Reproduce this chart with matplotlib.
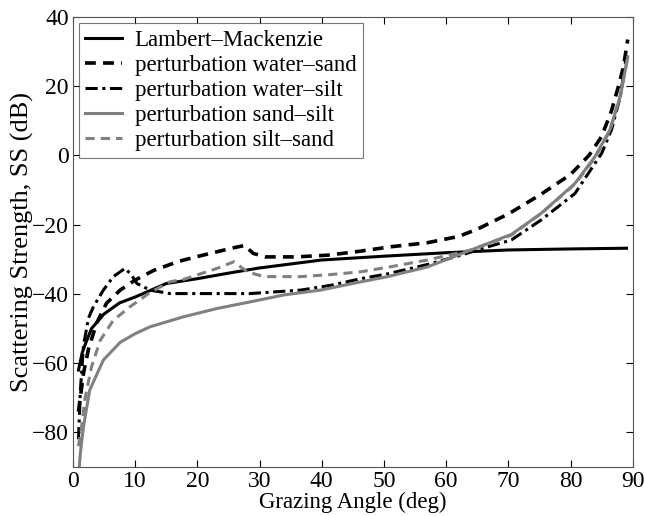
import matplotlib
matplotlib.use('Agg')
import matplotlib.pyplot as plt
import numpy as np

# grazing angle (deg) and scattering strength (dB)
lm_x = [0.9, 1.5, 2, 3, 5, 7.5, 10, 15, 20, 25, 30, 40, 50, 60, 70, 80, 89]
lm_y = [-62, -57, -54.5, -50, -45.8, -42.6, -40.9, -37, -35.6, -34, -32.5, -30.2, -29.1, -28.1, -27.3, -27.0, -26.8]

ws_x = [0.9, 1.7, 2.5, 3.8, 5.4, 7.6, 10, 13, 17, 20, 23, 25.5, 27.6, 29, 31, 36, 41, 46, 51, 57, 62, 65, 70,
        75, 80, 83, 85, 86.6, 87.7, 88.5, 89.2]
ws_y = [-74, -63, -56, -48.5, -42.7, -38.9, -36, -33.2, -30.6, -29.2, -27.9, -26.8, -26.0, -28.3, -29.3, -29.3,
        -28.8, -27.7, -26.4, -25.2, -23.4, -21.3, -16.9, -11.5, -5.5, 0.1, 5.5, 13, 20, 25.6, 33.5]

wsi_x = [0.9, 1.2, 1.7, 2.5, 3.3, 4.9, 6.5, 8.4, 9.4, 10.3, 12.4, 15.6, 20.5, 28.5, 36.6, 41.5, 46.3, 50.6,
         57, 62.4, 65, 70.5, 75.3, 80.7, 85, 86.6, 88, 89]
wsi_y = [-82, -68, -55, -47, -43.7, -38.9, -35, -32.6, -34.5, -37, -38.9, -39.9, -39.9, -39.9, -38.9, -37.5,
         -35.6, -34.2, -31.5, -28.8, -27.3, -24.4, -18.6, -11, 0.6, 7.5, 17, 29]

ssi_x = [0.9, 1.2, 1.7, 2.7, 4.9, 7.6, 10, 12.4, 17.8, 23.2, 28.5, 33.9, 39.8, 46.3, 50.6, 57, 64, 70.5,
         75.3, 80.7, 83.9, 86.3, 88, 89.2]
ssi_y = [-93, -86, -78.4, -67.8, -59.1, -54, -51.5, -49.5, -46.6, -44.2, -42.3, -40.3, -38.9, -36.5, -35,
         -32.2, -27.3, -22.8, -16.7, -8.1, -0.4, 7.3, 17, 28.5]

sis_x = [0.9, 1.4, 1.9, 3, 4.4, 6.5, 9.2, 12.4, 15.6, 17.8, 23.2, 25.9, 28, 30.7, 36.6, 41.5, 46.3, 50.6,
         57, 64, 70.5, 75.3, 80.7, 84, 86.3, 88, 89.2]
sis_y = [-84, -78.4, -70.7, -61, -53.4, -47.6, -43.7, -39.6, -36.5, -35.8, -32.6, -30.7, -33.6, -35, -35,
         -34.4, -33.6, -32.3, -30.2, -27.3, -23, -16.7, -8.3, -0.5, 7, 17.5, 28.5]

labels = ['Lambert\u2013Mackenzie', 'perturbation water\u2013sand', 'perturbation water\u2013silt',
          'perturbation sand\u2013silt', 'perturbation silt\u2013sand']

plt.rcParams['font.family'] = ['Liberation Serif', 'DejaVu Serif']

fig = plt.figure(figsize=(6.45, 5.16), dpi=100)
ax = fig.add_axes([0.113, 0.095, 0.868, 0.872])

gray = '#808080'
ax.plot(lm_x, lm_y, color='black', lw=2.2, label=labels[0])
ax.plot(ws_x, ws_y, color='black', lw=2.6, ls=(0, (3, 2)), label=labels[1])
ax.plot(wsi_x, wsi_y, color='black', lw=2.2, ls=(0, (4, 1.5, 1, 1.5)), label=labels[2])
ax.plot(ssi_x, ssi_y, color=gray, lw=2.2, label=labels[3])
ax.plot(sis_x, sis_y, color=gray, lw=2.2, ls=(0, (3, 2)), label=labels[4])

ax.set_xlim(0, 90)
ax.set_ylim(-90, 40)
ax.set_xticks(np.arange(0, 91, 10))
ax.set_yticks(np.arange(-80, 41, 20))
ax.tick_params(direction='in', top=True, right=True, labelsize=17, length=5, pad=3)
for s in ax.spines.values():
    s.set_linewidth(0.8)
    s.set_color('#555555')

ax.set_xlabel('Grazing Angle (deg)', fontsize=16.5, labelpad=0)
ax.set_ylabel('Scattering Strength, SS (dB)', fontsize=19, labelpad=-2)

leg = ax.legend(loc='upper left', fontsize=16.5, frameon=True, fancybox=False, handlelength=1.6,
                borderaxespad=0.25, labelspacing=0.18, handletextpad=0.55, borderpad=0.3)
leg.get_frame().set_edgecolor('#555555')
leg.get_frame().set_linewidth(0.8)

fig.savefig('out.png', dpi=100)
